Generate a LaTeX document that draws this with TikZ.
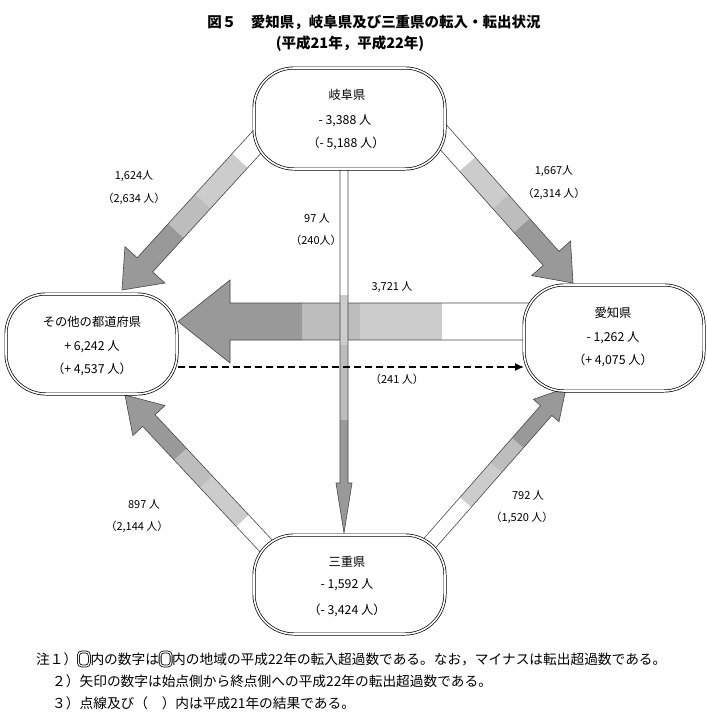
\documentclass[tikz,border=0pt]{standalone}
\usepackage{fontspec}
\setmainfont{Noto Sans CJK JP}
\usetikzlibrary{calc,arrows.meta}
\definecolor{lgray}{gray}{0.80}
\definecolor{mgray}{gray}{0.74}
\definecolor{dgray}{gray}{0.60}
\definecolor{edgegray}{gray}{0.28}
\tikzset{
  arrowedge/.style={draw=edgegray, line width=0.6pt, line join=miter},
  pref/.style={draw=black, double=white, double distance=1.6pt, line width=0.7pt,
               rounded corners=40pt, inner sep=0pt},
  boxtxt/.style={font=\fontsize{12.3}{14}\selectfont, inner sep=0pt},
  lbl/.style={font=\fontsize{11}{13}\selectfont, inner sep=0pt},
  notetxt/.style={font=\fontsize{13.7}{16}\selectfont, inner sep=0pt, anchor=west},
  notesym/.style={draw=black, double=white, double distance=1.2pt, line width=0.8pt,
                  rounded corners=3.5pt, minimum width=11pt, minimum height=14pt, inner sep=0pt, anchor=west},
  ttl/.style={font=\fontsize{14.5}{17}\selectfont\bfseries, inner sep=0pt},
  dashline/.style={draw=black, line width=1.4pt, dash pattern=on 7pt off 4pt,
                   -{Latex[length=9pt,width=8pt]}}
}
% #1 start, #2 tip, #3 shaft half width, #4 head half width, #5 head length,
% #6 end of dark part, #7 end of medium part, #8 end of light part (distances from tip)
\newcommand{\blockarrow}[8]{%
  \coordinate (ba-h) at ($(#2)!#5!(#1)$);
  \coordinate (ba-a) at ($(#2)!#6!(#1)$);
  \coordinate (ba-b) at ($(#2)!#7!(#1)$);
  \coordinate (ba-c) at ($(#2)!#8!(#1)$);
  \fill[white] ($(#1)!#3!90:(#2)$) -- ($(ba-c)!#3!90:(#2)$) -- ($(ba-c)!#3!-90:(#2)$) -- ($(#1)!#3!-90:(#2)$) -- cycle;
  \fill[lgray] ($(ba-c)!#3!90:(#2)$) -- ($(ba-b)!#3!90:(#2)$) -- ($(ba-b)!#3!-90:(#2)$) -- ($(ba-c)!#3!-90:(#2)$) -- cycle;
  \fill[mgray] ($(ba-b)!#3!90:(#2)$) -- ($(ba-a)!#3!90:(#2)$) -- ($(ba-a)!#3!-90:(#2)$) -- ($(ba-b)!#3!-90:(#2)$) -- cycle;
  \fill[dgray] ($(ba-a)!#3!90:(#2)$) -- ($(ba-h)!#3!90:(#2)$) -- ($(ba-h)!#4!90:(#2)$) -- (#2) -- ($(ba-h)!#4!-90:(#2)$) -- ($(ba-h)!#3!-90:(#2)$) -- ($(ba-a)!#3!-90:(#2)$) -- cycle;
  \draw[arrowedge] ($(#1)!#3!90:(#2)$) -- ($(ba-h)!#3!90:(#2)$) -- ($(ba-h)!#4!90:(#2)$) -- (#2) -- ($(ba-h)!#4!-90:(#2)$) -- ($(ba-h)!#3!-90:(#2)$) -- ($(#1)!#3!-90:(#2)$) -- cycle;
}
\begin{document}
\begin{tikzpicture}[x=1pt, y=-1pt]
\fill[white] (0,0) rectangle (707,721);
\useasboundingbox (0,0) rectangle (707,721);

% title
\node[ttl] (title1) at (374,22) {図５　愛知県，岐阜県及び三重県の転入・転出状況};
\node[ttl] (title2) at (350,44) {(平成21年，平成22年)};

% arrow end points
\coordinate (S1) at (277,120); \coordinate (T1) at (122,290);
\coordinate (S2) at (420,111); \coordinate (T2) at (573,283);
\coordinate (S3) at (282,563); \coordinate (T3) at (125,395);
\coordinate (S4) at (414,561); \coordinate (T4) at (566,388);
\coordinate (S5) at (600,321.5); \coordinate (T5) at (178,321.5);
\coordinate (S6) at (344,130); \coordinate (T6) at (344,533);
\coordinate (D1) at (178,367); \coordinate (D2) at (524,367);

% block arrows
\blockarrow{S1}{T1}{10.5pt}{27pt}{34pt}{80pt}{120pt}{175pt}
\blockarrow{S2}{T2}{10.5pt}{26pt}{33pt}{77pt}{109pt}{159pt}
\blockarrow{S3}{T3}{8.5pt}{22pt}{35pt}{81pt}{119pt}{172pt}
\blockarrow{S4}{T4}{7.5pt}{17pt}{30pt}{73pt}{106pt}{152pt}
\blockarrow{S5}{T5}{18.5pt}{41.5pt}{52pt}{124pt}{182pt}{264pt}
\blockarrow{S6}{T6}{4pt}{8pt}{50pt}{113pt}{188pt}{238pt}

% dashed (2009) arrow
\draw[dashline] (D1) -- (D2);

% prefecture boxes
\node[pref, fill=white, minimum width=191pt, minimum height=101pt] (gifu) at (349.5,118.5) {};
\node[pref, fill=white, minimum width=171pt, minimum height=100pt] (other) at (91.5,344) {};
\node[pref, fill=white, minimum width=180pt, minimum height=106pt] (aichi) at (614,338) {};
\node[pref, fill=white, minimum width=191pt, minimum height=99pt] (mie) at (349.5,584.5) {};

% box texts
\node[boxtxt] (gifu1) at (347,95) {岐阜県};
\node[boxtxt] (gifu2) at (345,121) {- 3,388 人};
\node[boxtxt] (gifu3) at (346,143) {（- 5,188 人）};

\node[boxtxt] (other1) at (92,322) {その他の都道府県};
\node[boxtxt] (other2) at (92,347) {+ 6,242 人};
\node[boxtxt] (other3) at (92,369) {（+ 4,537 人）};

\node[boxtxt] (aichi1) at (613,313) {愛知県};
\node[boxtxt] (aichi2) at (613,338) {- 1,262 人};
\node[boxtxt] (aichi3) at (613,360) {（+ 4,075 人）};

\node[boxtxt] (mie1) at (347,562) {三重県};
\node[boxtxt] (mie2) at (347,585) {- 1,592 人};
\node[boxtxt] (mie3) at (347,610) {（- 3,424 人）};

% arrow labels
\node[lbl] (l1a) at (134,176) {1,624人};
\node[lbl] (l1b) at (134,199) {（2,634 人）};
\node[lbl] (l2a) at (554,171) {1,667人};
\node[lbl] (l2b) at (554,194) {（2,314 人）};
\node[lbl] (l6a) at (317,218) {97 人};
\node[lbl] (l6b) at (316,240) {（240人）};
\node[lbl] (l5a) at (392,287) {3,721 人};
\node[lbl] (ld) at (397,379) {（241 人）};
\node[lbl] (l3a) at (144,504) {897 人};
\node[lbl] (l3b) at (137,527) {（2,144 人）};
\node[lbl] (l4a) at (528,495) {792 人};
\node[lbl] (l4b) at (522,518) {（1,520 人）};

% notes
\node[notetxt] (n1a) at (36,659) {注１）};
\node[notesym] (sym1) at ($(n1a.east)+(0.5,0)$) {};
\node[notetxt] (n1b) at ($(sym1.east)+(0.5,0)$) {内の数字は};
\node[notesym] (sym2) at ($(n1b.east)+(0.5,0)$) {};
\node[notetxt] (n1c) at ($(sym2.east)+(0.5,0)$) {内の地域の平成22年の転入超過数である。なお，マイナスは転出超過数である。};
\node[notetxt] (n2) at (52,681) {２）矢印の数字は始点側から終点側への平成22年の転出超過数である。};
\node[notetxt] (n3) at (52,703) {３）点線及び（　）内は平成21年の結果である。};
\end{tikzpicture}
\end{document}
